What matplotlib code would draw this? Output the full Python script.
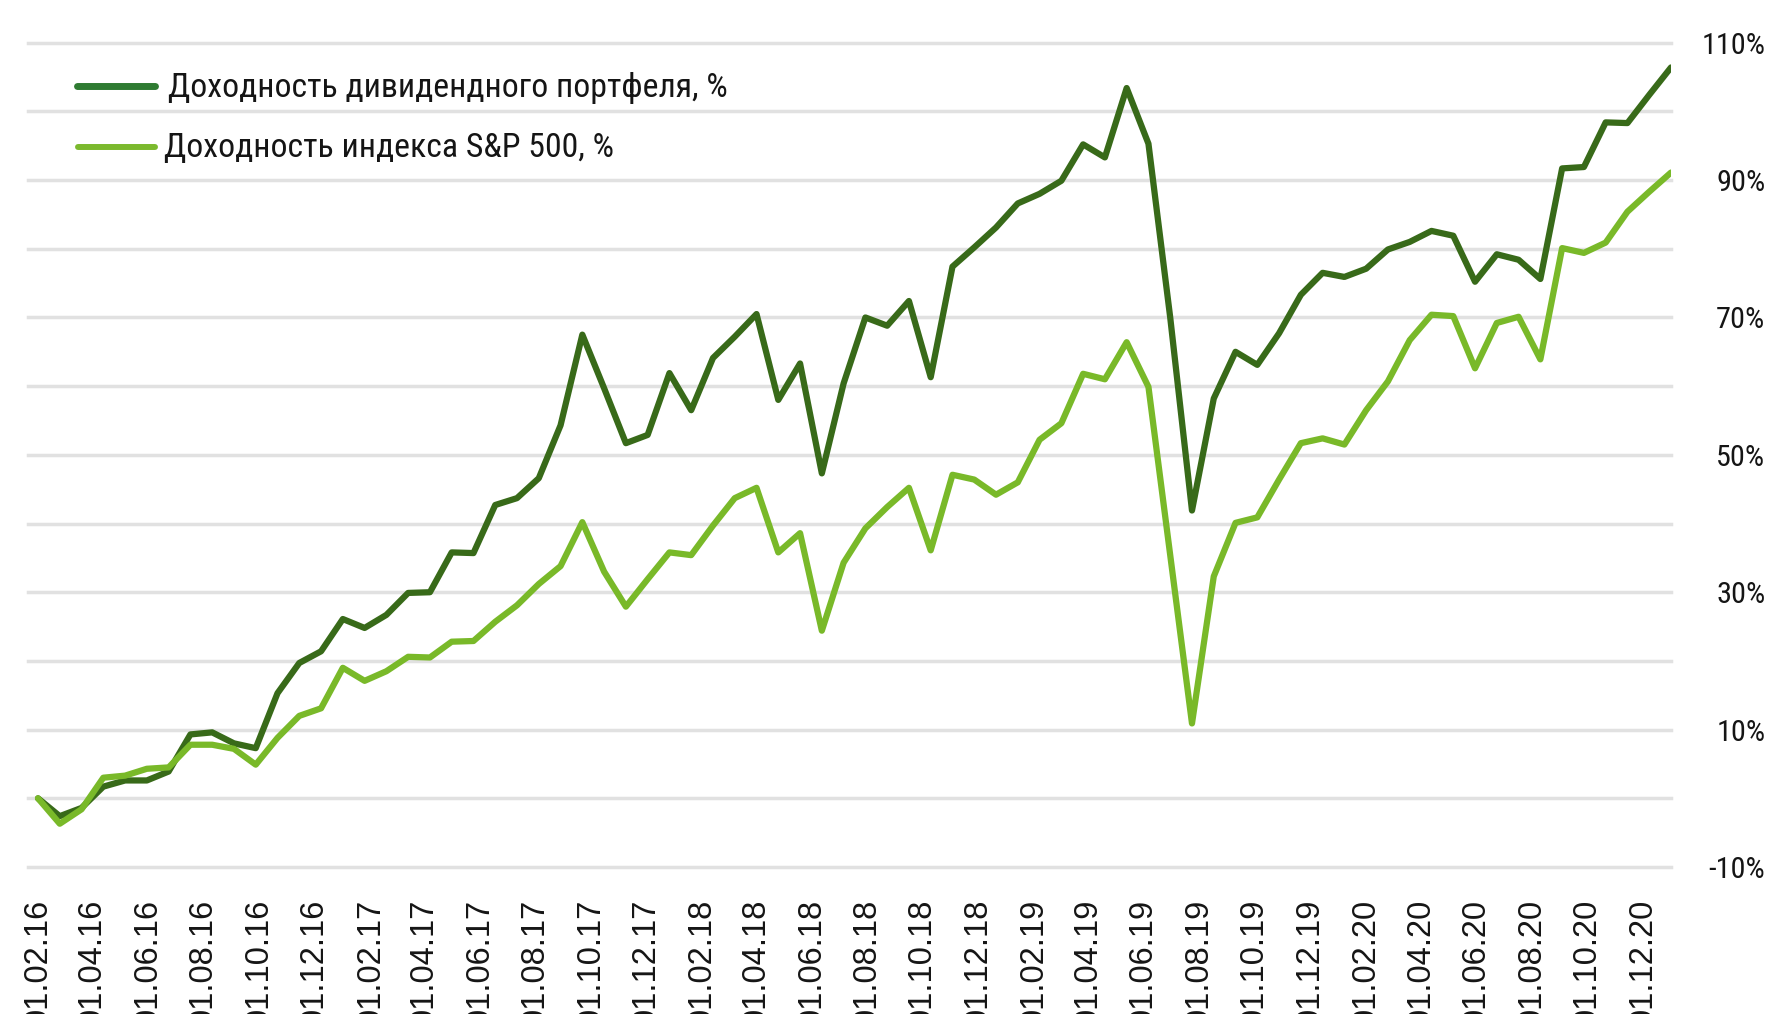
import numpy as np
import pandas as pd
import matplotlib
matplotlib.use('Agg')
import matplotlib.pyplot as plt
import matplotlib.dates as mdates
from matplotlib import font_manager as fm
from matplotlib.lines import Line2D

# ---------------- data ----------------
start_date = '2016-02-01'
end_date = '2021-01-01'
n_points = 76

portfolio = [0, -2.6, -1.4, 1.7, 2.6, 2.6, 3.9, 9.3, 9.6, 8.0,
             7.3, 15.3, 19.7, 21.4, 26.1, 24.8, 26.7, 29.9, 30.0, 35.8,
             35.7, 42.7, 43.7, 46.6, 54.3, 67.5, 59.7, 51.7, 52.9, 61.9,
             56.5, 64.1, 67.2, 70.5, 58.0, 63.3, 47.3, 60.4, 70.0, 68.8,
             72.4, 61.3, 77.4, 80.2, 83.1, 86.6, 88.0, 89.9, 95.2, 93.3,
             103.4, 95.3, 70.0, 41.9, 58.2, 65.0, 63.1, 67.7, 73.3, 76.5,
             75.9, 77.1, 79.9, 81.0, 82.6, 81.9, 75.2, 79.2, 78.4, 75.6,
             91.7, 91.9, 98.4, 98.3, 102.4, 106.4]

sp500 = [0, -3.7, -1.6, 3.0, 3.3, 4.3, 4.5, 7.8, 7.8, 7.2,
         4.9, 8.8, 12.0, 13.1, 19.0, 17.1, 18.5, 20.6, 20.5, 22.8,
         22.9, 25.7, 28.1, 31.2, 33.8, 40.2, 33.0, 27.9, 31.9, 35.8,
         35.4, 39.7, 43.7, 45.2, 35.8, 38.6, 24.4, 34.3, 39.3, 42.4,
         45.2, 36.1, 47.1, 46.4, 44.2, 46.0, 52.2, 54.6, 61.8, 61.0,
         66.4, 59.9, 35.4, 10.9, 32.3, 40.1, 40.9, 46.4, 51.7, 52.4,
         51.5, 56.5, 60.7, 66.7, 70.4, 70.2, 62.6, 69.2, 70.1, 63.9,
         80.1, 79.4, 80.9, 85.4, 88.3, 91.1]

tick_dates = pd.date_range('2016-02-01', '2020-12-01', freq='2MS')
y_label_values = [-10, 10, 30, 50, 70, 90, 110]
grid_values = list(range(-10, 111, 10))
legend_labels = ['Доходность дивидендного портфеля, %',
                 'Доходность индекса S&P 500, %']

DARK = '#386A19'
LIGHT = '#79B929'
LEG_DARK = '#2F7B32'
LEG_LIGHT = '#7BB92E'
GRID = '#E1E1E1'
TEXT = '#151515'

# ---------------- fonts ----------------
def _wt(f):
    w = f.weight
    if isinstance(w, str):
        w = fm.weight_dict.get(w, 400)
    return w

def _is_cond(f):
    s = (f.name + ' ' + f.fname).lower()
    return (f.stretch in ('condensed', 'semi-condensed', 'extra-condensed', 'ultra-condensed')
            or 'narrow' in s or 'condensed' in s)

entries = [f for f in fm.fontManager.ttflist if f.style == 'normal' and 350 <= _wt(f) <= 450]
cond = [f for f in entries if _is_cond(f)]
order = ['liberation sans narrow', 'roboto condensed', 'dejavu sans', 'noto sans', 'open sans', 'roboto']
chosen = None
for key in order:
    cs = [f for f in cond if f.name.lower().startswith(key)]
    if cs:
        cs.sort(key=lambda f: 0 if 'semi' not in (f.name + f.fname).lower() and 'extra' not in (f.name + f.fname).lower() else 1)
        chosen = cs[0]
        break
if chosen is None and cond:
    chosen = cond[0]
if chosen is not None:
    cond_prop = fm.FontProperties(fname=chosen.fname)
else:
    cond_prop = fm.FontProperties(family=['Liberation Sans', 'DejaVu Sans'])

# ---------------- figure ----------------
W, H = 1773, 1014
fig = plt.figure(figsize=(W / 100, H / 100), dpi=100)
ax_left, ax_right, ax_top, ax_bottom = 28, 1671, 42.7, 867
ax = fig.add_axes([ax_left / W, 1 - ax_bottom / H, (ax_right - ax_left) / W, (ax_bottom - ax_top) / H])

dates = pd.date_range(start_date, end_date, periods=n_points)

for v in grid_values:
    ax.axhline(v, color=GRID, lw=2.5, zorder=0, clip_on=False)

ax.plot(dates, portfolio, color=DARK, lw=4.5, solid_capstyle='round',
        solid_joinstyle='round', zorder=3)
ax.plot(dates, sp500, color=LIGHT, lw=4.5, solid_capstyle='round',
        solid_joinstyle='round', zorder=4)

ax.set_xlim(pd.Timestamp(start_date) - pd.Timedelta(days=11), pd.Timestamp(end_date))
ax.set_ylim(-10, 110)

for s in ax.spines.values():
    s.set_visible(False)

# x ticks
ax.set_xticks(tick_dates)
ax.xaxis.set_major_formatter(mdates.DateFormatter('%d.%m.%y'))
ax.tick_params(axis='x', length=0, pad=23, labelrotation=90, labelcolor=TEXT,
               labelsize=23.5, labelfontfamily='Liberation Sans')

# y ticks (right)
renderer = fig.canvas.get_renderer()
tmp1 = fig.text(0, 0, '90%', fontproperties=cond_prop, fontsize=24.7)
tmp2 = fig.text(0, 0, '110%', fontproperties=cond_prop, fontsize=24.7)
w1 = tmp1.get_window_extent(renderer).width
w2 = tmp2.get_window_extent(renderer).width
ytick_size = 24.7 * 0.5 * (52 / w1 + 60 / w2)
tmp1.remove(); tmp2.remove()

ax.yaxis.tick_right()
ax.set_yticks(y_label_values)
ax.set_yticklabels([f'{v}%' for v in y_label_values])
ax.tick_params(axis='y', length=0, pad=68, labelcolor=TEXT)
yprop = cond_prop.copy()
yprop.set_size(ytick_size)
for lab in ax.get_yticklabels():
    lab.set_fontproperties(yprop)
    lab.set_ha('right')

# legend (manual)
def fx(px):
    return px / W

def fy(py):
    return 1 - py / H

fig.add_artist(Line2D([fx(77), fx(154.5)], [fy(86), fy(86)], transform=fig.transFigure,
                      color=LEG_DARK, lw=5.0, solid_capstyle='round'))
fig.add_artist(Line2D([fx(77.5), fx(155)], [fy(146.7), fy(146.7)], transform=fig.transFigure,
                      color=LEG_LIGHT, lw=4.3, solid_capstyle='round'))

t1 = fig.text(fx(168.4), fy(97.3), legend_labels[0], fontproperties=cond_prop,
              fontsize=27.6, va='baseline', ha='left', color=TEXT)
t2 = fig.text(fx(163.8), fy(157.3), legend_labels[1], fontproperties=cond_prop,
              fontsize=27.6, va='baseline', ha='left', color=TEXT)
b1 = t1.get_window_extent(renderer).width
b2 = t2.get_window_extent(renderer).width
leg_size = 27.6 * 0.5 * (556 / b1 + 451 / b2)
t1.set_fontsize(leg_size)
t2.set_fontsize(leg_size)

fig.savefig('out.png', dpi=100, facecolor='white')
